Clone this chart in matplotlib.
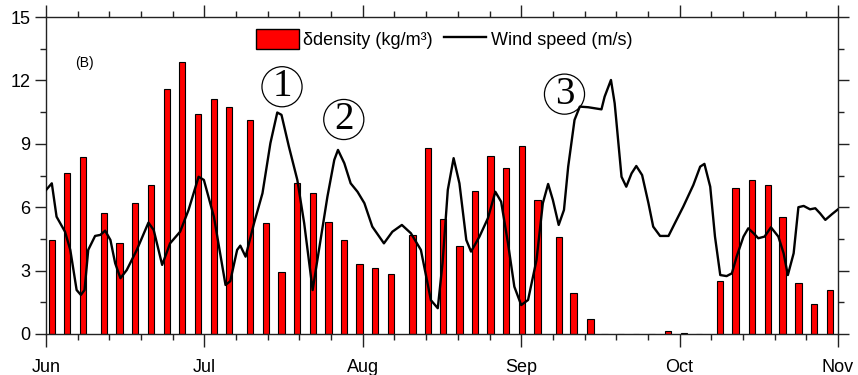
import matplotlib
matplotlib.use('Agg')
import matplotlib.pyplot as plt
from matplotlib.patches import Patch
from matplotlib.lines import Line2D
from matplotlib.ticker import MultipleLocator, FixedLocator

plt.rcParams['font.family'] = ['Liberation Sans', 'DejaVu Sans']

# x axis in "day" units: each month spans 30 units, Jun 1 = 0
MONTH_POS    = [0, 30, 60, 90, 120, 150]
MONTH_LABELS = ['Jun', 'Jul', 'Aug', 'Sep', 'Oct', 'Nov']

# delta density bars (kg/m3)
bar_x = [1.1, 4.0, 7.0, 11.0, 13.9, 16.9, 19.9, 22.9, 25.8, 28.8,
         31.8, 34.7, 38.6, 41.7, 44.6, 47.5, 50.6, 53.5, 56.4, 59.4,
         62.3, 65.3, 69.4, 72.3, 75.2, 78.3, 81.3, 84.2, 87.1, 90.1,
         93.1, 97.1, 99.9, 103.1, 105.8, 108.8, 111.8, 114.7, 117.8, 120.8,
         123.7, 127.7, 130.6, 133.7, 136.7, 139.5, 142.5, 145.5, 148.5]
bar_val = [4.45, 7.6, 8.36, 5.71, 4.32, 6.19, 7.07, 11.58, 12.89, 10.41,
           11.1, 10.76, 10.13, 5.27, 2.92, 7.13, 6.66, 5.32, 4.45, 3.31,
           3.11, 2.83, 4.69, 8.79, 5.44, 4.18, 6.77, 8.44, 7.87, 8.91,
           6.34, 4.58, 1.93, 0.7, 0.0, 0.0, 0.0, 0.0, 0.12, 0.03,
           0.0, 2.51, 6.9, 7.29, 7.04, 5.52, 2.43, 1.41, 2.07]

# wind speed (m/s)
wind_x = [0.0, 1.1, 2.0, 3.6, 4.6, 5.8, 6.6, 7.3, 8.0, 9.3,
          10.3, 11.2, 12.2, 13.1, 14.1, 15.3, 17.2, 19.4, 20.4, 22.0,
          23.5, 25.4, 27.0, 28.9, 29.9, 31.8, 34.0, 34.9, 36.2, 36.8,
          37.8, 39.4, 41.0, 42.5, 43.8, 44.6, 46.0, 47.6, 48.9, 50.5,
          51.7, 53.3, 54.6, 55.3, 56.5, 57.7, 59.0, 60.3, 61.8, 64.0,
          65.6, 67.4, 69.1, 71.0, 72.9, 74.2, 75.1, 76.1, 77.2, 78.3,
          79.6, 80.5, 82.1, 83.7, 85.1, 86.2, 87.5, 88.7, 90.0, 91.3,
          92.9, 94.1, 95.1, 96.0, 97.1, 98.1, 98.9, 100.1, 101.1, 102.7,
          105.2, 105.8, 107.0, 107.7, 108.0, 109.0, 109.9, 110.9, 111.8, 112.9,
          114.1, 115.0, 116.3, 117.9, 119.1, 120.7, 122.6, 123.9, 124.7, 125.8,
          126.7, 127.7, 128.9, 129.9, 130.8, 132.1, 133.0, 134.0, 134.9, 136.1,
          137.3, 138.7, 139.7, 140.5, 141.6, 142.5, 143.5, 144.7, 145.7, 146.6,
          147.6, 148.9, 150.0]
wind_val = [6.81, 7.13, 5.55, 4.84, 3.98, 2.08, 1.85, 2.08, 3.98, 4.64,
            4.69, 4.89, 4.45, 3.35, 2.64, 3.03, 3.98, 5.27, 4.92, 3.27,
            4.29, 4.84, 5.87, 7.44, 7.29, 5.55, 2.32, 2.5, 3.98, 4.18,
            3.66, 5.24, 6.66, 9.03, 10.48, 10.37, 8.87, 7.29, 5.24, 2.08,
            3.98, 6.5, 8.24, 8.71, 8.08, 7.13, 6.73, 6.19, 5.08, 4.29,
            4.84, 5.16, 4.77, 3.98, 1.6, 1.22, 3.35, 6.82, 8.32, 7.13,
            4.45, 3.9, 4.61, 5.48, 6.73, 6.26, 4.29, 2.24, 1.37, 1.61,
            3.5, 6.19, 7.1, 6.34, 5.16, 5.87, 7.92, 10.13, 10.76, 10.73,
            10.63, 11.23, 12.02, 10.92, 10.13, 7.44, 6.97, 7.6, 7.95, 7.52,
            6.19, 5.08, 4.64, 4.64, 5.24, 6.03, 7.05, 7.92, 8.05, 6.97,
            4.61, 2.79, 2.74, 2.87, 3.66, 4.61, 5.0, 4.77, 4.53, 4.61,
            5.05, 4.61, 3.82, 2.79, 3.82, 6.0, 6.06, 5.9, 5.95, 5.71,
            5.4, 5.68, 5.9]

# circled event labels
event_labels = ['1', '2', '3']
event_x      = [44.7, 56.4, 98.2]
event_y      = [11.7, 10.15, 11.35]

fig = plt.figure(figsize=(8.58, 3.75), dpi=100)
ax = fig.add_axes([46 / 858, 1 - 334 / 375, 792 / 858, 317 / 375])

ax.bar(bar_x, bar_val, width=1.2, color='#ff0000', edgecolor='black', linewidth=0.8, zorder=2)
ax.plot(wind_x, wind_val, color='black', linewidth=1.7, zorder=3)

ax.set_xlim(0, 150)
ax.set_ylim(0, 15)
ax.xaxis.set_major_locator(FixedLocator(MONTH_POS))
ax.set_xticklabels(MONTH_LABELS)
ax.xaxis.set_minor_locator(MultipleLocator(6))
ax.yaxis.set_major_locator(MultipleLocator(3))
ax.yaxis.set_minor_locator(MultipleLocator(1.5))

ax.tick_params(which='both', direction='out', top=True, right=True, labeltop=False, labelright=False,
               width=1.0, color='#222222', labelsize=13)
ax.tick_params(axis='x', which='major', length=9, pad=9)
ax.tick_params(axis='x', which='minor', length=4.5)
ax.tick_params(axis='y', which='major', length=8, pad=3)
ax.tick_params(axis='y', which='minor', length=4.5)
for s in ax.spines.values():
    s.set_linewidth(1.0)
    s.set_color('#222222')

ax.text(0.037, 0.855, '(B)', transform=ax.transAxes, fontsize=10, ha='left', va='center')

for lab, x, y in zip(event_labels, event_x, event_y):
    ax.text(x, y, lab, fontsize=28, family='Liberation Serif', ha='center', va='center', zorder=4,
            bbox=dict(boxstyle='circle,pad=0.04', fc='none', ec='black', lw=0.9))

handles = [Patch(facecolor='#ff0000', edgecolor='black', linewidth=1.0),
           Line2D([], [], color='black', linewidth=1.7)]
ax.legend(handles, ['δdensity (kg/m³)', 'Wind speed (m/s)'], loc='upper center',
          bbox_to_anchor=(0.503, 0.985), ncol=2, frameon=False, fontsize=13,
          handlelength=2.35, handleheight=1.3, handletextpad=0.25, columnspacing=0.6,
          borderaxespad=0.0)

fig.savefig('out.png', dpi=100)
